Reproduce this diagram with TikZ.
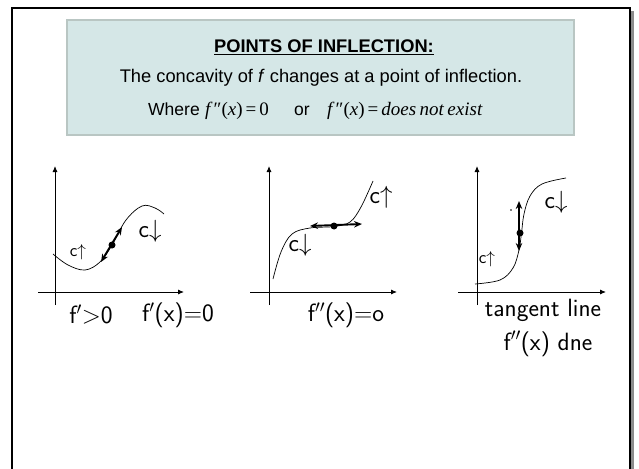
\documentclass[tikz,border=0pt]{standalone}
\usepackage{fontspec}
\setmainfont{Liberation Sans}
\newfontfamily\tnr{Liberation Serif}
\usetikzlibrary{arrows.meta}
\definecolor{boxfill}{HTML}{D5E7E7}
\definecolor{boxline}{HTML}{B9C6C3}
\definecolor{shadowgray}{HTML}{8C8C8C}
\tikzset{
  axis/.style={line width=0.9pt,-{Latex[length=6pt,width=5pt]}},
  curve/.style={line width=0.7pt},
  tangent/.style={line width=1.9pt,{Stealth[length=8pt,width=6.5pt]}-{Stealth[length=8pt,width=6.5pt]}},
  hand/.style={font=\sffamily\fontsize{25}{25}\selectfont,inner sep=0pt},
  handsm/.style={font=\sffamily\fontsize{18}{18}\selectfont,inner sep=0pt},
  boxtext/.style={font=\fontsize{18.3}{20}\selectfont,inner sep=0pt,anchor=base},
  dotp/.style={circle,fill=black,inner sep=0pt,minimum size=7pt},
}
\begin{document}
\begin{tikzpicture}[x=1pt,y=-1pt]
\useasboundingbox (0,0) rectangle (639,468);
% frame
\fill[shadowgray] (631,11) rectangle (634,480);
\draw[line width=2pt] (12,480) |- (630,8) -- (630,480);
% header box
\node[draw=boxline,line width=2pt,fill=boxfill,minimum width=507pt,minimum height=115pt,inner sep=0pt] (box) at (320.3,77.9) {};
\node[boxtext,font=\bfseries\fontsize{18.3}{20}\selectfont] (title) at (324,52.5) {\underline{POINTS OF INFLECTION:}};
\node[boxtext] (line2) at (321,83) {The concavity of \textit{f} changes at a point of inflection.};
\node[boxtext,anchor=base west,font=\fontsize{17.5}{20}\selectfont] (where) at (148,115.7) {Where};
\node[boxtext,anchor=base west,font=\tnr\fontsize{19}{20}\selectfont] (m1) at (205,115.7) {\textit{f}\kern1pt″(\textit{x})\kern3pt=\kern3pt0};
\node[boxtext,anchor=base west,font=\fontsize{17.5}{20}\selectfont] (or) at (294,115.7) {or};
\node[boxtext,anchor=base west,font=\tnr\fontsize{19}{20}\selectfont] (m2) at (327,115.7) {\textit{f}\kern1pt″(\textit{x})\kern3pt=\kern3pt\textit{does\kern3.5pt not\kern3.5pt exist}};

% ---------- graph 1 ----------
\coordinate (g1yb) at (55,305);
\coordinate (g1yt) at (55,166);
\coordinate (g1xl) at (38,292);
\coordinate (g1xr) at (184,292);
\draw[axis] (g1yb) -- (g1yt);
\draw[axis] (g1xl) -- (g1xr);
\draw[curve] plot[smooth,tension=0.6] coordinates {(53,254) (68,265) (85,270) (100,262) (112,245) (126,220) (142,206) (155,208) (164,214)};
\coordinate (t1a) at (101,262);
\coordinate (t1b) at (122,227);
\draw[tangent] (t1a) -- (t1b);
\node[dotp] (d1) at (112,245) {};
\node[handsm] (c1u) at (78,252) {c$\uparrow$};
\node[hand] (c1d) at (150,231) {c$\downarrow$};
\node[hand] (l1a) at (91,315) {f$'$>0};
\node[hand] (l1b) at (178,315) {f$'$(x)=0};

% ---------- graph 2 ----------
\coordinate (g2yb) at (269,305);
\coordinate (g2yt) at (269,166);
\coordinate (g2xl) at (250,292);
\coordinate (g2xr) at (397,292);
\draw[axis] (g2yb) -- (g2yt);
\draw[axis] (g2xl) -- (g2xr);
\draw[curve] plot[smooth,tension=0.6] coordinates {(273,279) (281,252) (292,234) (310,228) (334,226.5) (350,222) (361,207) (373,181)};
\coordinate (t2a) at (310,226);
\coordinate (t2b) at (362,224);
\draw[tangent] (t2a) -- (t2b);
\node[dotp] (d2) at (334,226) {};
\node[hand] (c2d) at (300,245) {c$\downarrow$};
\node[hand] (c2u) at (381,197) {c$\uparrow$};
\node[hand] (l2) at (346,315) {f$''$(x)=o};

% ---------- graph 3 ----------
\coordinate (g3yb) at (477,305);
\coordinate (g3yt) at (477,166);
\coordinate (g3xl) at (458,292);
\coordinate (g3xr) at (606,292);
\draw[axis] (g3yb) -- (g3yt);
\draw[axis] (g3xl) -- (g3xr);
\draw[curve] plot[smooth,tension=0.6] coordinates {(475,284) (500,280) (513,268) (519,250) (521.5,233) (524,214) (530,196) (542,184) (566,178)};
\coordinate (t3a) at (519,201);
\coordinate (t3b) at (519,251);
\draw[tangent] (t3a) -- (t3b);
\node[dotp] (d3) at (520,233) {};
\node[circle,fill=black,inner sep=0pt,minimum size=1.6pt] (sd) at (511,210) {};
\node[handsm] (c3u) at (487,259) {c$\uparrow$};
\node[hand] (c3d) at (556,202) {c$\downarrow$};
\node[hand,anchor=base] (l3a) at (543,316) {tangent line};
\node[hand,anchor=base] (l3b) at (548,350) {f$''$(x) dne};
\end{tikzpicture}
\end{document}
